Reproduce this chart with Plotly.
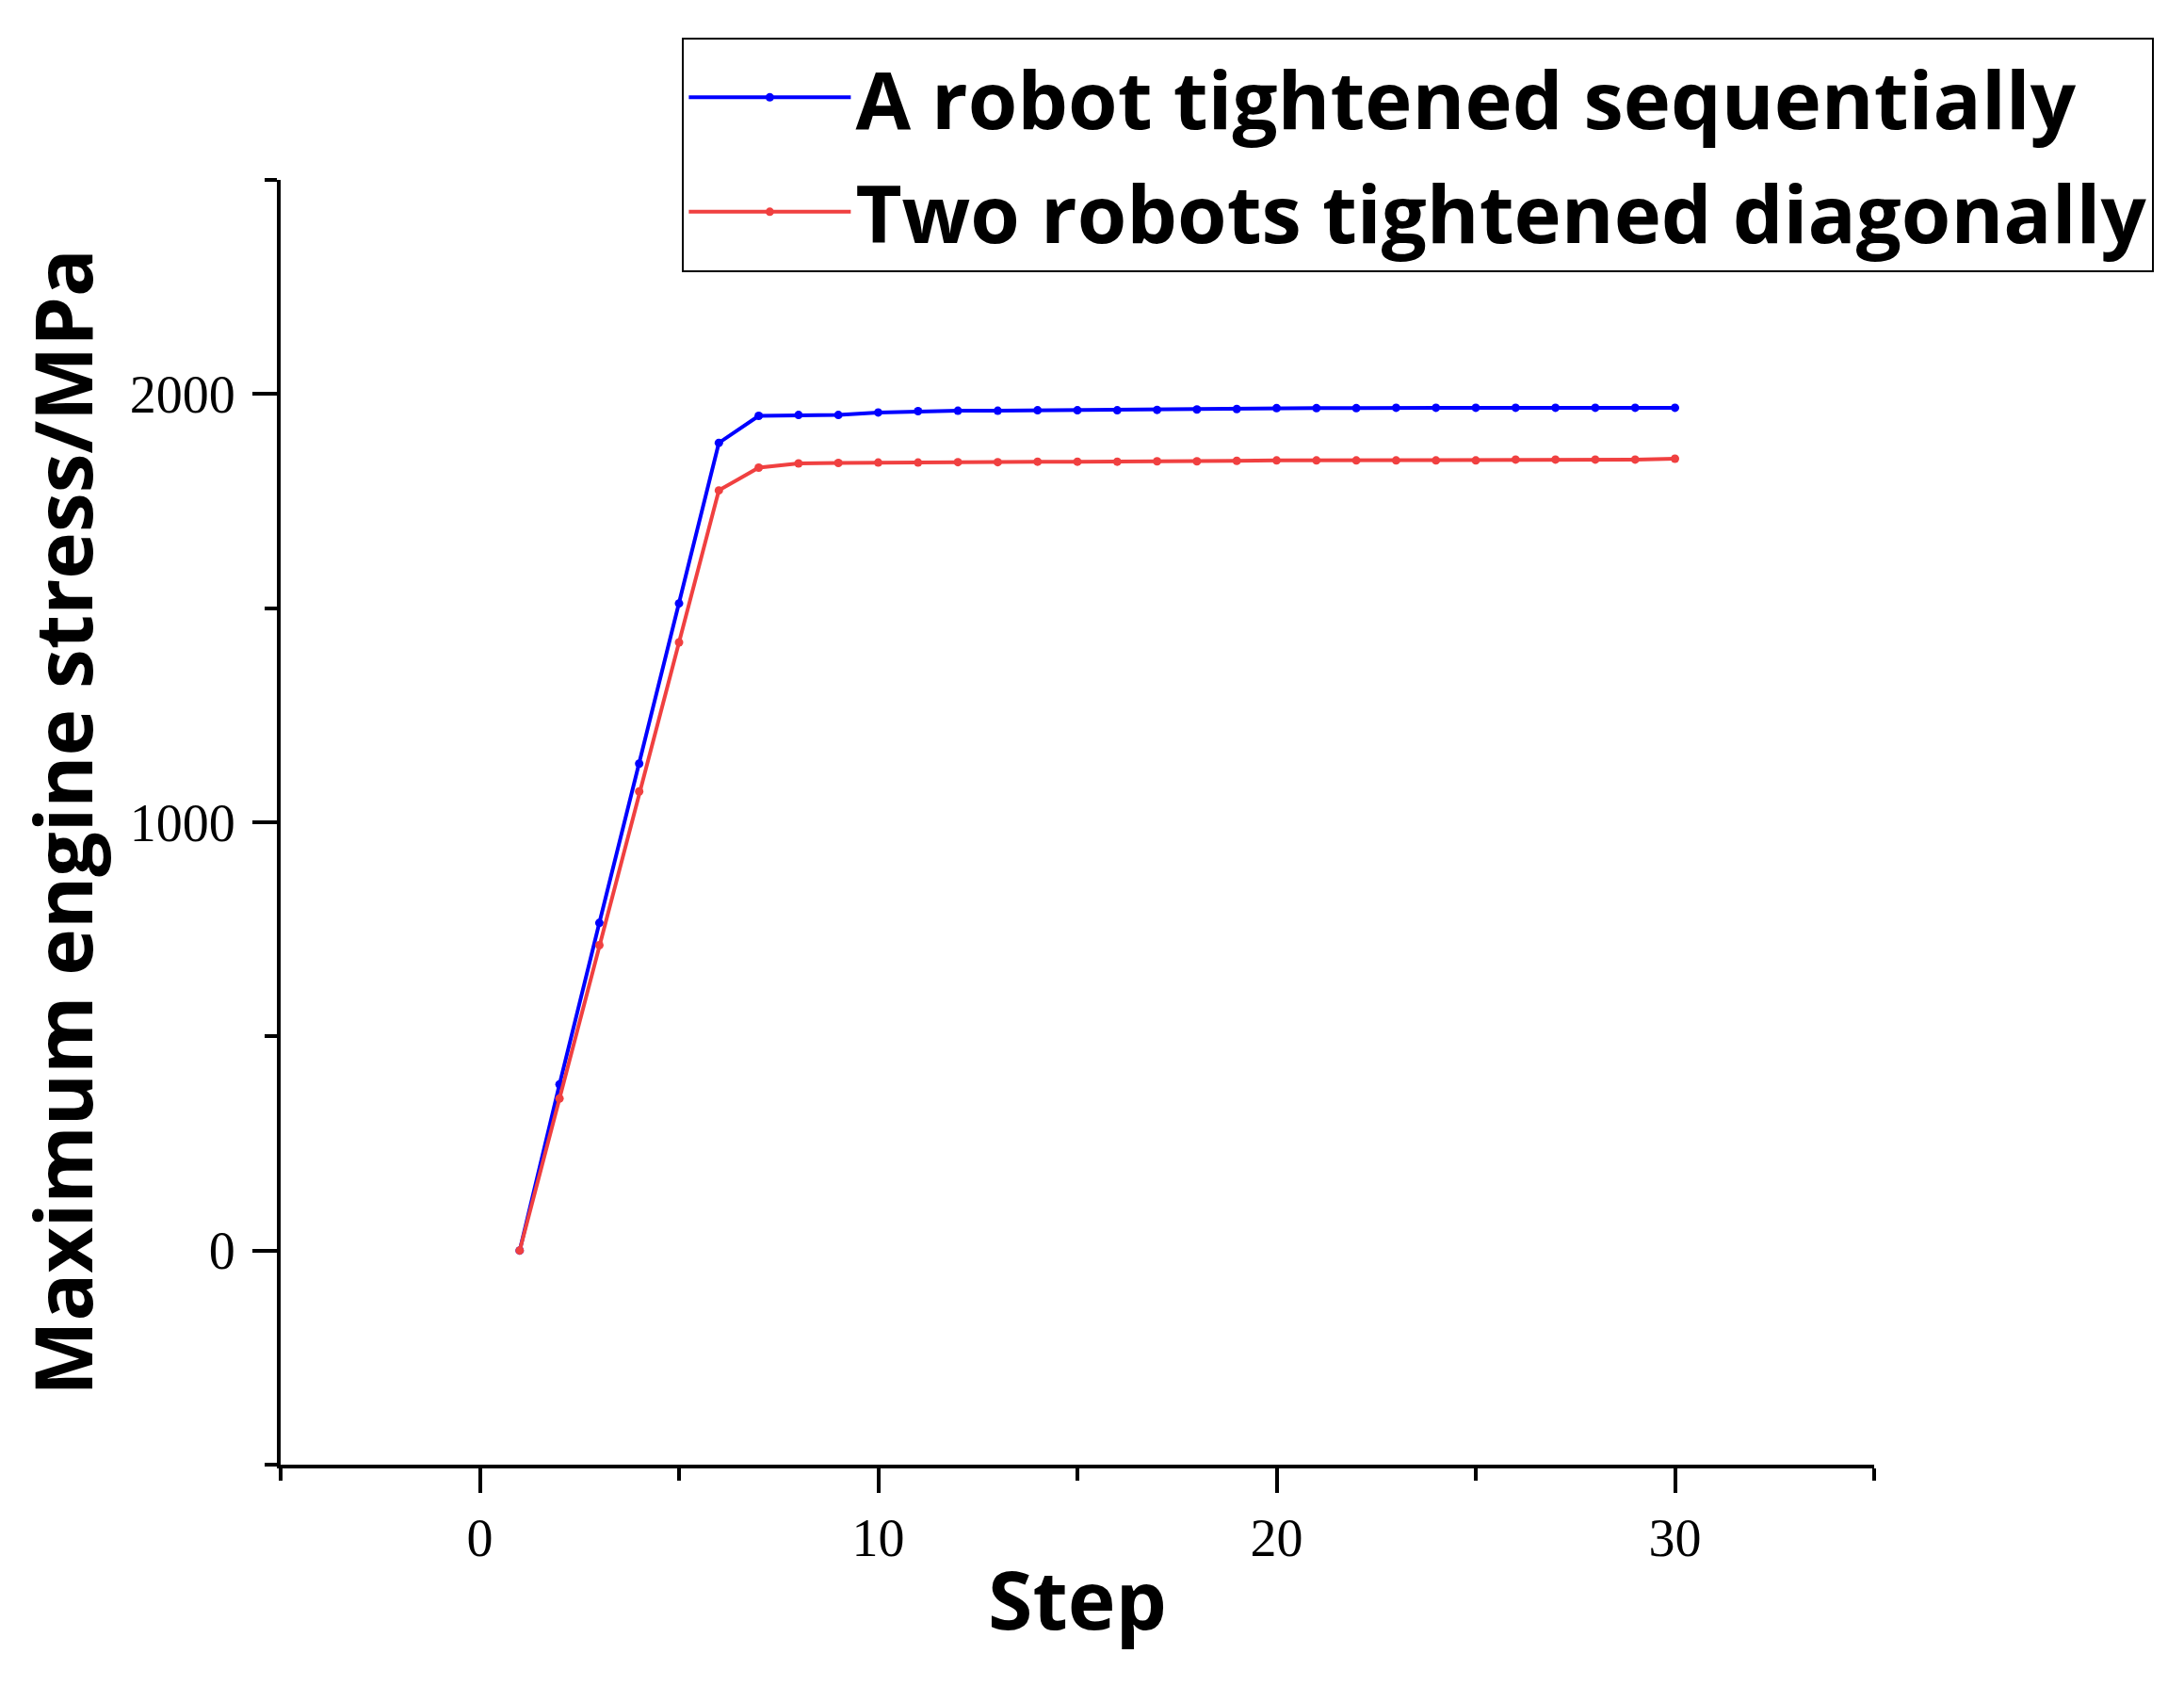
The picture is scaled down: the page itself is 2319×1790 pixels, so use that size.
import plotly.graph_objects as go

# data
steps = list(range(1, 31))

robot_sequential = [
    0, 388, 765, 1137, 1511, 1886, 1949, 1951, 1951, 1957,
    1960, 1961, 1961, 1962, 1962, 1962, 1963, 1964, 1965, 1967,
    1967, 1967, 1968, 1968, 1968, 1968, 1968, 1968, 1968, 1968,
]

robots_diagonal = [
    0, 355, 713, 1072, 1420, 1775, 1828, 1838, 1839, 1840,
    1840, 1841, 1841, 1842, 1842, 1842, 1843, 1843, 1844, 1845,
    1845, 1845, 1845, 1845, 1845, 1847, 1847, 1847, 1847, 1849,
]

series_names = [
    "A robot tightened sequentially",
    "Two robots tightened diagonally",
]

BLUE = "#0000FF"
RED = "#F04040"
SANS = "Open Sans"
SERIF = "Liberation Serif"

fig = go.Figure()

fig.add_trace(
    go.Scatter(
        x=steps,
        y=robot_sequential,
        name=series_names[0],
        legendgroup="seq",
        mode="lines+markers",
        line=dict(color=BLUE, width=4),
        marker=dict(color=BLUE, size=9),
    )
)

fig.add_trace(
    go.Scatter(
        x=steps,
        y=robots_diagonal,
        name=series_names[1],
        legendgroup="diag",
        mode="lines+markers",
        line=dict(color=RED, width=4),
        marker=dict(color=RED, size=9),
    )
)

axis_common = dict(
    showline=True,
    linecolor="black",
    linewidth=4,
    showgrid=False,
    zeroline=False,
    ticks="outside",
    ticklen=26,
    tickwidth=4,
    tickcolor="black",
    tickfont=dict(family=SERIF, size=56, color="black"),
)

fig.update_xaxes(
    range=[-5, 35],
    tick0=0,
    dtick=10,
    minor=dict(dtick=5, tick0=0, ticks="outside", ticklen=13, tickwidth=4, tickcolor="black"),
    title=dict(text="<b>Step</b>", font=dict(family=SANS, size=86, color="black"), standoff=8),
    **axis_common
)

fig.update_yaxes(
    range=[-500, 2500],
    tick0=0,
    dtick=1000,
    ticklabelstandoff=7,
    minor=dict(dtick=500, tick0=0, ticks="outside", ticklen=13, tickwidth=4, tickcolor="black"),
    title=dict(
        text="<b>Maximum engine stress/MPa</b>",
        font=dict(family=SANS, size=84, color="black"),
        standoff=24,
    ),
    **axis_common
)

fig.update_layout(
    width=2319,
    height=1790,
    margin=dict(l=290, r=337, t=183, b=243),
    plot_bgcolor="white",
    paper_bgcolor="white",
    legend=dict(
        x=0.252,
        y=1.111,
        xanchor="left",
        yanchor="top",
        font=dict(family=SANS, size=85, color="black", weight="bold"),
        bordercolor="black",
        borderwidth=2,
        bgcolor="white",
        itemwidth=172,
        tracegroupgap=8,
    ),
)

fig.write_html("out.html")
